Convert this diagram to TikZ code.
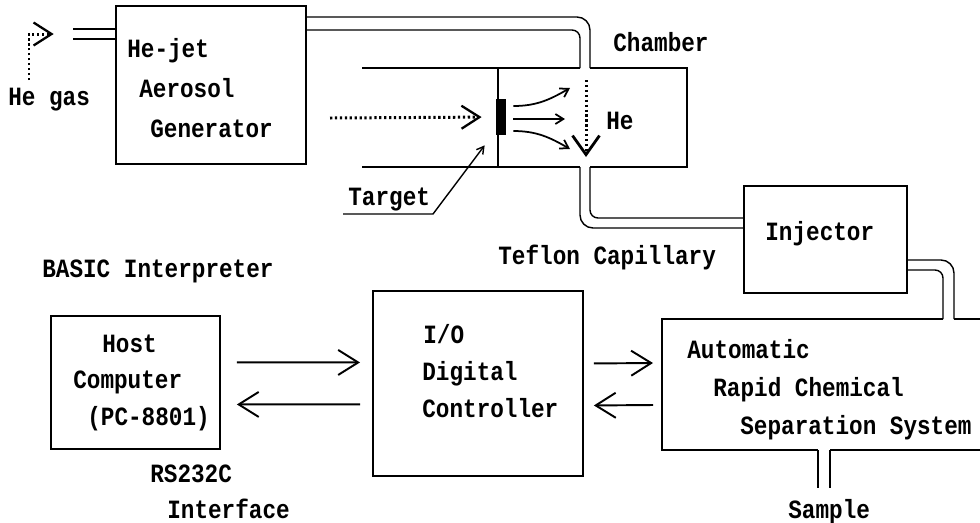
\documentclass[tikz,border=0pt]{standalone}
\usepackage{fontspec}
\setmonofont[FakeStretch=0.86]{Liberation Mono}
\usetikzlibrary{arrows.meta,calc}

\begin{document}
\begin{tikzpicture}[x=0.02cm,y=-0.02cm,
  box/.style={draw,line width=1.1pt,inner sep=0pt,anchor=north west},
  lbl/.style={anchor=base west,inner sep=0pt,font=\ttfamily\bfseries\fontsize{15}{18}\selectfont},
  pipe/.style={line width=0.8pt},
  wall/.style={line width=1.1pt},
  flow/.style={line width=1.1pt,-{Straight Barb[length=0.4cm,width=0.5cm]}},
  jet/.style={line width=1pt,-{Straight Barb[length=0.16cm,width=0.2cm]}},
  dots/.style={line width=1.7pt,dash pattern=on 1.3pt off 1.5pt}]
  \useasboundingbox (0,0) rectangle (980,522);

  % boxes
  \node[box,minimum width=3.8cm,minimum height=3.16cm] (gen) at (115,5) {};
  \node[box,minimum width=3.26cm,minimum height=2.14cm] (inj) at (743,185) {};
  \node[box,minimum width=3.38cm,minimum height=2.66cm] (host) at (50,315) {};
  \node[box,minimum width=4.2cm,minimum height=3.7cm] (io) at (372,290) {};
  \coordinate (sep) at (662,384);
  \node[fill=black,inner sep=0pt,minimum width=0.2cm,minimum height=0.72cm] (tgt) at (501,117) {};

  % chamber and separation system, open on one side
  \draw[wall] (580,68) -- (362,68);
  \draw[wall] (590,68) -- (687,68) -- (687,167) -- (590,167);
  \draw[wall] (580,167) -- (362,167);
  \draw[wall] (498,68) -- (498,167);
  \draw[wall] (943,319) -- (662,319) -- (662,450) -- (818,450);
  \draw[wall] (830,450) -- (980,450);
  \draw[wall] (954,319) -- (980,319);

  % capillaries
  \coordinate (inlet) at (73,34);
  \draw[pipe] (73,29) -- (gen.west |- 0,29);
  \draw[pipe] (73,39) -- (gen.west |- 0,39);
  \draw[pipe,rounded corners=0.26cm] (gen.east |- 0,17) -| (590,68);
  \draw[pipe,rounded corners=0.16cm] (gen.east |- 0,30) -| (580,68);
  \draw[pipe,rounded corners=0.26cm] (580,167) |- (inj.west |- 0,228);
  \draw[pipe,rounded corners=0.16cm] (590,167) |- (inj.west |- 0,218);
  \draw[pipe,rounded corners=0.26cm] (inj.east |- 0,260) -| (954,319);
  \draw[pipe,rounded corners=0.16cm] (inj.east |- 0,270) -| (943,319);
  \draw[pipe] (818,450) -- (818,488);
  \draw[pipe] (830,450) -- (830,488);

  % gas and beam
  \coordinate (gas) at (29,80);
  \draw[dots,-{Straight Barb[length=0.36cm,width=0.46cm,line width=1.3pt]},shorten >=11] (gas) |- (inlet);
  \coordinate (beam) at (330,118);
  \draw[dots,-{Straight Barb[length=0.36cm,width=0.46cm,line width=1.3pt]},shorten >=8] (beam) -- (tgt.west);
  \draw[jet] ($(tgt.east)+(7,-11)$) to[out=0,in=210] (570,88);
  \draw[jet] ($(tgt.east)+(7,2)$) -- (565,119);
  \draw[jet] ($(tgt.east)+(7,14)$) to[out=0,in=150] (570,149);
  \coordinate (he) at (586,80);
  \draw[dots,-{Straight Barb[length=0.38cm,width=0.54cm,line width=1.6pt]}] (he) -- (586,157);
  \draw[pipe,-{Straight Barb[length=0.14cm,width=0.16cm]}] (343,214) -- (433,214) -- ($(tgt.south west)+(-11,10)$);

  % signals
  \draw[flow] ($(host.east)+(16,-20)$) -- ($(io.west)+(-12,-21)$);
  \draw[flow] ($(io.west)+(-12,21)$) -- ($(host.east)+(16,22)$);
  \draw[flow] ($(io.east)+(10,-20)$) -- ($(sep)+(-9,-21)$);
  \draw[flow] ($(sep)+(-9,21)$) -- ($(io.east)+(10,22)$);

  % labels
  \node[lbl] (l1) at (8,105) {He gas};
  \node[lbl] (l2) at (127,57) {He-jet};
  \node[lbl] (l3) at (139,97) {Aerosol};
  \node[lbl] (l4) at (150,137) {Generator};
  \node[lbl] (l5) at (613,51) {Chamber};
  \node[lbl] (l6) at (606,129) {He};
  \node[lbl] (l7) at (348,205) {Target};
  \node[lbl] (l8) at (765,240) {Injector};
  \node[lbl] (l9) at (498,264) {Teflon Capillary};
  \node[lbl] (l10) at (42,277) {BASIC Interpreter};
  \node[lbl] (l11) at (102,352) {Host};
  \node[lbl] (l12) at (73,388) {Computer};
  \node[lbl] (l13) at (87,425) {(PC-8801)};
  \node[lbl] (l14) at (150,482) {RS232C};
  \node[lbl] (l15) at (167,518) {Interface};
  \node[lbl] (l16) at (423,343) {I/O};
  \node[lbl] (l17) at (422,380) {Digital};
  \node[lbl] (l18) at (422,417) {Controller};
  \node[lbl] (l19) at (687,358) {Automatic};
  \node[lbl] (l20) at (713,396) {Rapid Chemical};
  \node[lbl] (l21) at (740,434) {Separation System};
  \node[lbl] (l22) at (788,518) {Sample};
\end{tikzpicture}
\end{document}
